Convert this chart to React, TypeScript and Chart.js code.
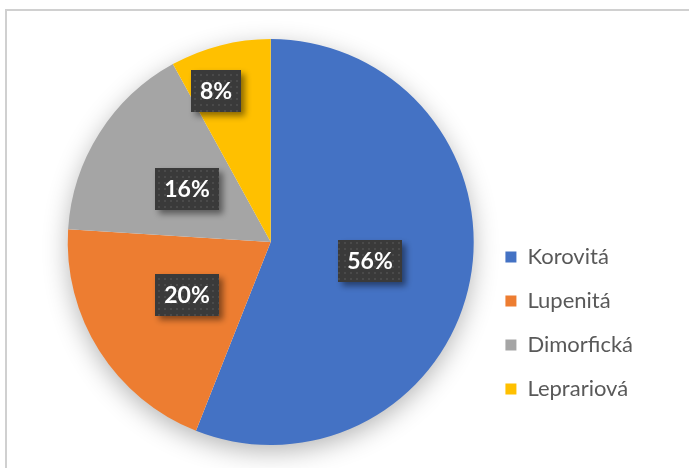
import React, { useEffect, useRef } from "react";
import { Chart, registerables } from "chart.js";

Chart.register(...registerables);

const categories = ["Korovitá", "Lupenitá", "Dimorfická", "Leprariová"];
const values = [56, 20, 16, 8];
const colors = ["#4472C4", "#ED7D31", "#A5A5A5", "#FFC000"];
const labelRadius = [0.5, 0.49, 0.49, 0.79];
const labelAngleShift = [0, 0, 0, -5.7];

function makePattern(ctx: CanvasRenderingContext2D) {
  const c = document.createElement("canvas");
  c.width = 6;
  c.height = 6;
  const p = c.getContext("2d")!;
  p.fillStyle = "#3a3a3a";
  p.fillRect(0, 0, 6, 6);
  p.fillStyle = "#4a4a4a";
  p.fillRect(2, 2, 2, 2);
  return ctx.createPattern(c, "repeat");
}

const shadowPlugin = {
  id: "pieShadow",
  beforeDatasetsDraw(chart: any) {
    const meta = chart.getDatasetMeta(0);
    const arc = meta.data[0];
    if (!arc) return;
    const { x, y, outerRadius } = arc.getProps(["x", "y", "outerRadius"], true);
    const ctx = chart.ctx;
    ctx.save();
    ctx.shadowColor = "rgba(0,0,0,0.3)";
    ctx.shadowBlur = 26;
    ctx.shadowOffsetY = 7;
    ctx.fillStyle = "#ffffff";
    ctx.beginPath();
    ctx.arc(x, y, outerRadius - 1, 0, Math.PI * 2);
    ctx.fill();
    ctx.restore();
  },
};

const labelPlugin = {
  id: "pctLabels",
  afterDatasetsDraw(chart: any) {
    const ctx = chart.ctx as CanvasRenderingContext2D;
    const meta = chart.getDatasetMeta(0);
    const pattern = makePattern(ctx);
    meta.data.forEach((arc: any, i: number) => {
      const { x, y, startAngle, endAngle, outerRadius } = arc.getProps(
        ["x", "y", "startAngle", "endAngle", "outerRadius"],
        true
      );
      const mid = (startAngle + endAngle) / 2 + (labelAngleShift[i] * Math.PI) / 180;
      const r = outerRadius * labelRadius[i];
      const lx = x + Math.cos(mid) * r;
      const ly = y + Math.sin(mid) * r;
      const text = values[i] + "%";
      ctx.save();
      ctx.font = "bold 23px Lato";
      const w = Math.round(ctx.measureText(text).width + 18);
      const h = 42;
      const bx = Math.round(lx - w / 2);
      const by = Math.round(ly - h / 2);
      ctx.shadowColor = "rgba(0,0,0,0.45)";
      ctx.shadowBlur = 6;
      ctx.shadowOffsetX = 4;
      ctx.shadowOffsetY = 4;
      ctx.fillStyle = pattern || "#3a3a3a";
      ctx.fillRect(bx, by, w, h);
      ctx.shadowColor = "transparent";
      ctx.fillStyle = "#ffffff";
      ctx.textAlign = "center";
      ctx.textBaseline = "middle";
      ctx.fillText(text, bx + w / 2, by + h / 2 + 1);
      ctx.restore();
    });
  },
};

export default function App() {
  const ref = useRef<HTMLCanvasElement>(null);
  useEffect(() => {
    if (!ref.current) return;
    const chart = new Chart(ref.current, {
      type: "pie",
      data: {
        labels: categories,
        datasets: [
          {
            data: values,
            backgroundColor: colors,
            borderWidth: 0,
          },
        ],
      },
      options: {
        responsive: false,
        animation: false,
        layout: { padding: { top: 39, bottom: 23, left: 58, right: 46 } },
        plugins: {
          tooltip: { enabled: false },
          legend: {
            position: "right",
            align: "start",
            title: {
              display: true,
              text: "",
              font: { size: 10 },
              padding: { top: 0, bottom: 173 },
            },
            labels: {
              boxWidth: 11,
              boxHeight: 11,
              padding: 22,
              color: "#595959",
              font: { size: 22, family: "Lato" },
            },
          },
        },
      },
      plugins: [shadowPlugin, labelPlugin],
    });
    return () => chart.destroy();
  }, []);
  return (
    <div
      style={{
        position: "fixed",
        left: 0,
        top: 0,
        width: 689,
        height: 468,
        background: "#ffffff",
        overflow: "hidden",
      }}
    >
      <div
        style={{
          position: "absolute",
          left: 5,
          top: 9,
          width: 720,
          height: 520,
          border: "2px solid #d0d0d0",
        }}
      />
      <canvas
        ref={ref}
        width={689}
        height={468}
        style={{ position: "absolute", left: 0, top: 0 }}
      />
    </div>
  );
}
